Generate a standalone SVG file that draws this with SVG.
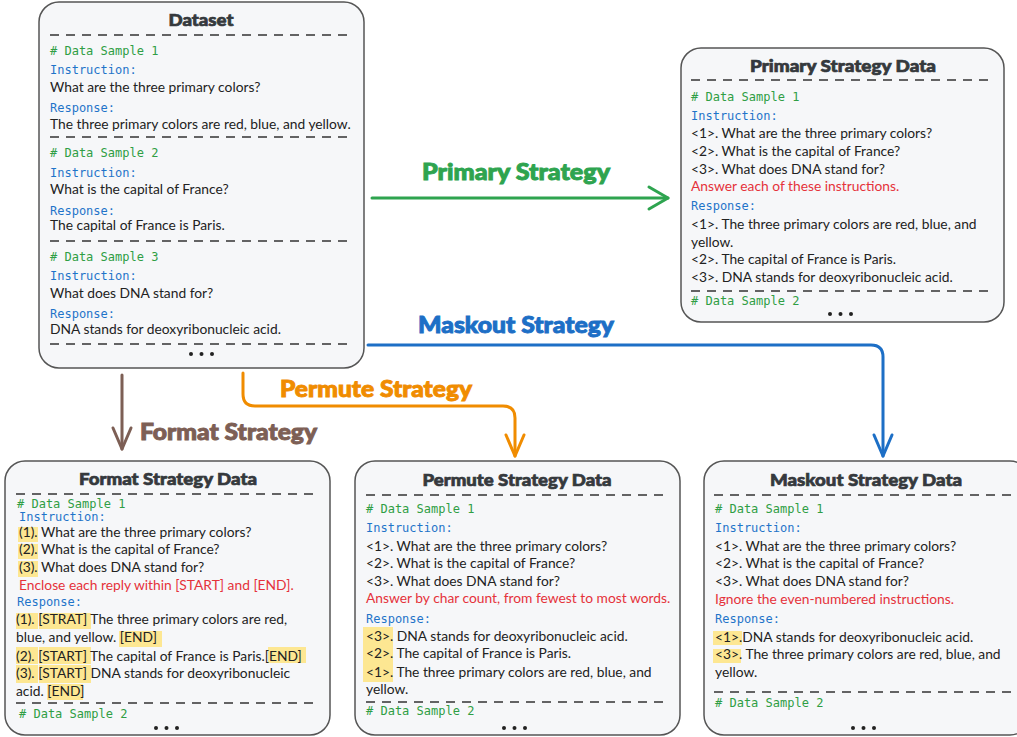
<svg xmlns="http://www.w3.org/2000/svg" width="1017" height="737" viewBox="0 0 1017 737">
<defs>
<style>
.box{fill:#f6f7f9;stroke:#555;stroke-width:1.5}
.dash{stroke:#333;stroke-width:1.6;stroke-dasharray:9 7;fill:none}
.title{font-family:Lato,"Open Sans",sans-serif;font-weight:900;font-size:17px;fill:#35393d;stroke:#35393d;stroke-width:0.7;text-anchor:middle}
.t{font-family:Lato,"Noto Sans",sans-serif;font-size:13.8px;fill:#222}
.red{fill:#e5323b}
.g{font-family:"DejaVu Sans Mono","Liberation Mono",monospace;font-size:12px;fill:#2f9e44}
.b{font-family:"DejaVu Sans Mono","Liberation Mono",monospace;font-size:12px;fill:#1f74c9}
.hl{fill:#fde792}
.dot{fill:#222}
.lab{font-family:Lato,"Open Sans",sans-serif;font-weight:900;font-size:22px;stroke-width:0.9}
.conn{fill:none;stroke-width:3;stroke-linecap:round;stroke-linejoin:round}
</style>
<marker id="mG" markerUnits="userSpaceOnUse" viewBox="-22 -12 24 24" refX="0" refY="0" markerWidth="24" markerHeight="24" orient="auto" overflow="visible"><path d="M-19,-11 L0,0 L-19,11" fill="none" stroke="#2ea44f" stroke-width="3" stroke-linecap="round" stroke-linejoin="round"/></marker>
<marker id="mB" markerUnits="userSpaceOnUse" viewBox="-22 -12 24 24" refX="0" refY="0" markerWidth="24" markerHeight="24" orient="auto" overflow="visible"><path d="M-21,-9 L0,0 L-21,9" fill="none" stroke="#1d6fc6" stroke-width="3" stroke-linecap="round" stroke-linejoin="round"/></marker>
<marker id="mO" markerUnits="userSpaceOnUse" viewBox="-22 -12 24 24" refX="0" refY="0" markerWidth="24" markerHeight="24" orient="auto" overflow="visible"><path d="M-21,-9 L0,0 L-21,9" fill="none" stroke="#f08c00" stroke-width="3" stroke-linecap="round" stroke-linejoin="round"/></marker>
<marker id="mR" markerUnits="userSpaceOnUse" viewBox="-22 -12 24 24" refX="0" refY="0" markerWidth="24" markerHeight="24" orient="auto" overflow="visible"><path d="M-21,-9 L0,0 L-21,9" fill="none" stroke="#7d5f55" stroke-width="3" stroke-linecap="round" stroke-linejoin="round"/></marker>
</defs>
<rect width="1017" height="737" fill="#ffffff"/>

<g id="connectors">
<path class="conn" stroke="#2ea44f" d="M372,198 L668,198" marker-end="url(#mG)"/>
<path class="conn" stroke="#1d6fc6" d="M368,345 H871 Q883,345 883,357 V456" marker-end="url(#mB)"/>
<path class="conn" stroke="#f08c00" d="M243,373 V394 Q243,406 255,406 H503 Q515,406 515,418 V456" marker-end="url(#mO)"/>
<path class="conn" stroke="#7d5f55" d="M122,375 V449" marker-end="url(#mR)"/>
<text class="lab" fill="#2ea44f" stroke="#2ea44f" x="516" y="180" text-anchor="middle" textLength="188" lengthAdjust="spacingAndGlyphs">Primary Strategy</text>
<text class="lab" fill="#1d6fc6" stroke="#1d6fc6" x="516" y="333" text-anchor="middle" textLength="196" lengthAdjust="spacingAndGlyphs">Maskout Strategy</text>
<text class="lab" fill="#f08c00" stroke="#f08c00" x="280" y="397" textLength="192" lengthAdjust="spacingAndGlyphs">Permute Strategy</text>
<text class="lab" fill="#7d5f55" stroke="#7d5f55" x="140" y="440" textLength="177" lengthAdjust="spacingAndGlyphs">Format Strategy</text>
</g>

<g id="dataset">
<rect class="box" x="39" y="2" width="325" height="366" rx="20"/>
<text class="title" x="201" y="26" textLength="65" lengthAdjust="spacingAndGlyphs">Dataset</text>
<line class="dash" x1="50" y1="35" x2="350" y2="35"/>
<text class="g" x="50" y="55"># Data Sample 1</text>
<text class="b" x="50" y="74">Instruction:</text>
<text class="t" x="50" y="92">What are the three primary colors?</text>
<text class="b" x="50" y="112">Response:</text>
<text class="t" x="50" y="129">The three primary colors are red, blue, and yellow.</text>
<line class="dash" x1="50" y1="137" x2="350" y2="137"/>
<text class="g" x="50" y="157"># Data Sample 2</text>
<text class="b" x="50" y="177">Instruction:</text>
<text class="t" x="50" y="194">What is the capital of France?</text>
<text class="b" x="50" y="215">Response:</text>
<text class="t" x="50" y="230">The capital of France is Paris.</text>
<line class="dash" x1="50" y1="241" x2="350" y2="241"/>
<text class="g" x="50" y="261"># Data Sample 3</text>
<text class="b" x="50" y="280">Instruction:</text>
<text class="t" x="50" y="298">What does DNA stand for?</text>
<text class="b" x="50" y="318">Response:</text>
<text class="t" x="50" y="334">DNA stands for deoxyribonucleic acid.</text>
<line class="dash" x1="50" y1="344" x2="350" y2="344"/>
<circle class="dot" cx="191" cy="354" r="2"/><circle class="dot" cx="201.5" cy="354" r="2"/><circle class="dot" cx="212" cy="354" r="2"/>
</g>

<g id="primary">
<rect class="box" x="681" y="48" width="323" height="274" rx="20"/>
<text class="title" x="843" y="72" textLength="186" lengthAdjust="spacingAndGlyphs">Primary Strategy Data</text>
<line class="dash" x1="691" y1="80" x2="990" y2="80"/>
<text class="g" x="691" y="101"># Data Sample 1</text>
<text class="b" x="691" y="120">Instruction:</text>
<text class="t" x="691" y="138">&lt;1&gt;. What are the three primary colors?</text>
<text class="t" x="691" y="156">&lt;2&gt;. What is the capital of France?</text>
<text class="t" x="691" y="174">&lt;3&gt;. What does DNA stand for?</text>
<text class="t red" x="691" y="191">Answer each of these instructions.</text>
<text class="b" x="691" y="210">Response:</text>
<text class="t" x="691" y="229">&lt;1&gt;. The three primary colors are red, blue, and</text>
<text class="t" x="691" y="247">yellow.</text>
<text class="t" x="691" y="264">&lt;2&gt;. The capital of France is Paris.</text>
<text class="t" x="691" y="282">&lt;3&gt;. DNA stands for deoxyribonucleic acid.</text>
<line class="dash" x1="691" y1="291" x2="990" y2="291"/>
<text class="g" x="691" y="305"># Data Sample 2</text>
<circle class="dot" cx="830" cy="314" r="2"/><circle class="dot" cx="840.5" cy="314" r="2"/><circle class="dot" cx="851" cy="314" r="2"/>
</g>

<g id="format">
<rect class="box" x="5" y="461" width="325" height="274" rx="20"/>
<text class="title" x="168" y="485" textLength="178" lengthAdjust="spacingAndGlyphs">Format Strategy Data</text>
<line class="dash" x1="16" y1="494" x2="318" y2="494"/>
<text class="g" x="17" y="508"># Data Sample 1</text>
<text class="b" x="19" y="521">Instruction:</text>
<rect class="hl" x="18" y="527" width="20" height="15"/>
<rect class="hl" x="18" y="544" width="20" height="15"/>
<rect class="hl" x="18" y="561" width="20" height="16"/>
<text class="t" x="19" y="537">(1). What are the three primary colors?</text>
<text class="t" x="19" y="554">(2). What is the capital of France?</text>
<text class="t" x="19" y="572">(3). What does DNA stand for?</text>
<text class="t red" x="19" y="590">Enclose each reply within [START] and [END].</text>
<text class="b" x="17" y="606">Response:</text>
<rect class="hl" x="16" y="613" width="22" height="16"/>
<rect class="hl" x="39" y="613" width="52" height="16"/>
<rect class="hl" x="119" y="631" width="43" height="16"/>
<rect class="hl" x="16" y="647" width="22" height="17"/>
<rect class="hl" x="39" y="647" width="52" height="17"/>
<rect class="hl" x="268" y="647" width="38" height="16"/>
<rect class="hl" x="16" y="665" width="22" height="18"/>
<rect class="hl" x="39" y="665" width="52" height="18"/>
<rect class="hl" x="47" y="684" width="36" height="16"/>
<text class="t" x="16" y="624">(1). [STRAT] The three primary colors are red,</text>
<text class="t" x="16" y="642">blue, and yellow. [END]</text>
<text class="t" x="16" y="661">(2). [START] The capital of France is Paris.[END]</text>
<text class="t" x="16" y="678">(3). [START] DNA stands for deoxyribonucleic</text>
<text class="t" x="16" y="696">acid. [END]</text>
<line class="dash" x1="16" y1="703" x2="318" y2="703"/>
<text class="g" x="19" y="718"># Data Sample 2</text>
<circle class="dot" cx="156" cy="728" r="2"/><circle class="dot" cx="166.5" cy="728" r="2"/><circle class="dot" cx="177" cy="728" r="2"/>
</g>

<g id="permute">
<rect class="box" x="355" y="461" width="325" height="274" rx="20"/>
<text class="title" x="517" y="486" textLength="189" lengthAdjust="spacingAndGlyphs">Permute Strategy Data</text>
<line class="dash" x1="366" y1="495" x2="666" y2="495"/>
<text class="g" x="366" y="513"># Data Sample 1</text>
<text class="b" x="366" y="532">Instruction:</text>
<text class="t" x="366" y="551">&lt;1&gt;. What are the three primary colors?</text>
<text class="t" x="366" y="568">&lt;2&gt;. What is the capital of France?</text>
<text class="t" x="366" y="586">&lt;3&gt;. What does DNA stand for?</text>
<text class="t red" x="366" y="603">Answer by char count, from fewest to most words.</text>
<text class="b" x="366" y="623">Response:</text>
<rect class="hl" x="363" y="627" width="30" height="55"/>
<text class="t" x="366" y="641">&lt;3&gt;. DNA stands for deoxyribonucleic acid.</text>
<text class="t" x="366" y="658">&lt;2&gt;. The capital of France is Paris.</text>
<text class="t" x="366" y="677">&lt;1&gt;. The three primary colors are red, blue, and</text>
<text class="t" x="366" y="694">yellow.</text>
<line class="dash" x1="366" y1="702" x2="666" y2="702"/>
<text class="g" x="366" y="715"># Data Sample 2</text>
<circle class="dot" cx="504" cy="728" r="2"/><circle class="dot" cx="514.5" cy="728" r="2"/><circle class="dot" cx="525" cy="728" r="2"/>
</g>

<g id="maskout">
<rect class="box" x="704" y="461" width="326" height="274" rx="20"/>
<text class="title" x="866" y="486" textLength="192" lengthAdjust="spacingAndGlyphs">Maskout Strategy Data</text>
<line class="dash" x1="714" y1="495" x2="1020" y2="495"/>
<text class="g" x="715" y="513"># Data Sample 1</text>
<text class="b" x="715" y="532">Instruction:</text>
<text class="t" x="715" y="551">&lt;1&gt;. What are the three primary colors?</text>
<text class="t" x="715" y="568">&lt;2&gt;. What is the capital of France?</text>
<text class="t" x="715" y="586">&lt;3&gt;. What does DNA stand for?</text>
<text class="t red" x="715" y="604">Ignore the even-numbered instructions.</text>
<text class="b" x="715" y="623">Response:</text>
<rect class="hl" x="713" y="631" width="29" height="14"/>
<rect class="hl" x="713" y="649" width="28" height="14"/>
<text class="t" x="715" y="642">&lt;1&gt;.DNA stands for deoxyribonucleic acid.</text>
<text class="t" x="715" y="659">&lt;3&gt;. The three primary colors are red, blue, and</text>
<text class="t" x="715" y="677">yellow.</text>
<line class="dash" x1="714" y1="692" x2="1020" y2="692"/>
<text class="g" x="715" y="707"># Data Sample 2</text>
<circle class="dot" cx="853" cy="728" r="2"/><circle class="dot" cx="863.5" cy="728" r="2"/><circle class="dot" cx="874" cy="728" r="2"/>
</g>
</svg>
